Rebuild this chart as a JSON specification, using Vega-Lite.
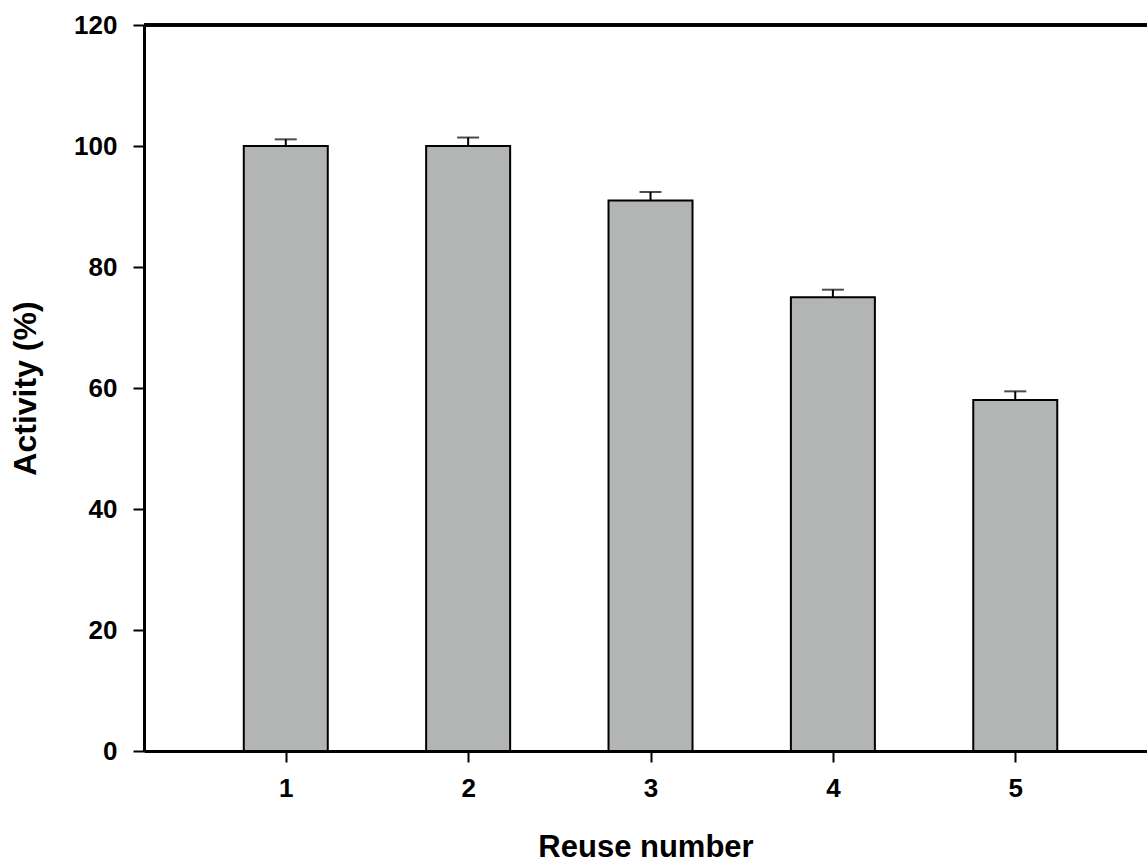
{
  "$schema": "https://vega.github.io/schema/vega-lite/v6.json",
  "width": 1003,
  "height": 726,
  "autosize": {"type": "none"},
  "padding": {"left": 144, "top": 25, "right": 0, "bottom": 115},
  "background": "white",
  "config": {
    "view": {"stroke": null},
    "font": "Liberation Sans"
  },
  "data": {
    "values": [
      {"reuse": 1, "activity": 100, "upper": 101.1},
      {"reuse": 2, "activity": 100, "upper": 101.4},
      {"reuse": 3, "activity": 91, "upper": 92.4},
      {"reuse": 4, "activity": 75, "upper": 76.25},
      {"reuse": 5, "activity": 58, "upper": 59.45}
    ]
  },
  "layer": [
    {
      "mark": {"type": "bar", "size": 84, "fill": "#b3b5b4", "stroke": "black", "strokeWidth": 2},
      "encoding": {
        "x": {
          "field": "reuse",
          "type": "quantitative",
          "scale": {"domain": [0.25, 5.695], "nice": false, "zero": false},
          "axis": {
            "title": "Reuse number",
            "values": [1, 2, 3, 4, 5],
            "format": "d",
            "grid": false,
            "domainColor": "black",
            "domainWidth": 3,
            "tickColor": "black",
            "tickWidth": 2,
            "tickSize": 11,
            "labelColor": "black",
            "labelFont": "Liberation Sans",
            "labelFontWeight": "bold",
            "labelFontSize": 26,
            "labelPadding": 13,
            "titleColor": "black",
            "titleFont": "Liberation Sans",
            "titleFontWeight": "bold",
            "titleFontSize": 31,
            "titlePadding": 31
          }
        },
        "y": {
          "field": "activity",
          "type": "quantitative",
          "scale": {"domain": [0, 120], "nice": false},
          "axis": {
            "title": "Activity (%)",
            "values": [0, 20, 40, 60, 80, 100, 120],
            "grid": false,
            "domainColor": "black",
            "domainWidth": 3,
            "tickColor": "black",
            "tickWidth": 2,
            "tickSize": 11,
            "labelColor": "black",
            "labelFont": "Liberation Sans",
            "labelFontWeight": "bold",
            "labelFontSize": 26,
            "labelPadding": 16,
            "titleColor": "black",
            "titleFont": "Liberation Sans",
            "titleFontWeight": "bold",
            "titleFontSize": 32,
            "titlePadding": 31
          }
        }
      }
    },
    {
      "mark": {"type": "rule", "strokeWidth": 2, "color": "black"},
      "encoding": {
        "x": {"field": "reuse", "type": "quantitative"},
        "y": {"field": "activity", "type": "quantitative"},
        "y2": {"field": "upper"}
      }
    },
    {
      "mark": {"type": "tick", "orient": "horizontal", "size": 22, "thickness": 2, "color": "black"},
      "encoding": {
        "x": {"field": "reuse", "type": "quantitative"},
        "y": {"field": "upper", "type": "quantitative"}
      }
    },
    {
      "mark": {"type": "rule", "strokeWidth": 3, "color": "black"},
      "encoding": {"y": {"datum": 120}}
    }
  ]
}
